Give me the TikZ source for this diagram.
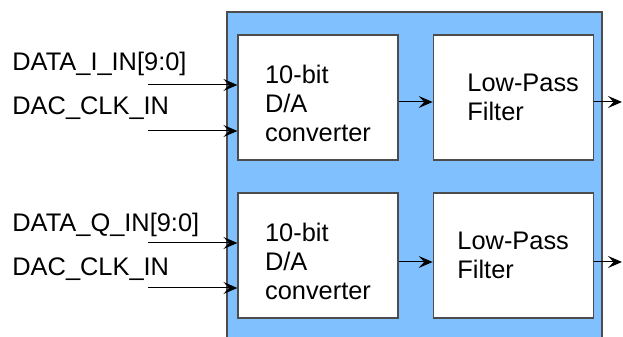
\documentclass[tikz,border=0pt]{standalone}
\usepackage{fontspec}
\setmainfont{Liberation Sans}
\usepackage{tikz}
\usetikzlibrary{arrows.meta,positioning}
\definecolor{chipblue}{RGB}{128,192,255}
\tikzset{
  block/.style={draw=black!70, fill=white, line width=0.6pt, minimum width=80pt, minimum height=62.5pt},
  blocktext/.style={font=\fontsize{12.7}{14.5}\selectfont, align=left},
  sig/.style={font=\fontsize{12.7}{14.5}\selectfont, anchor=base west, inner sep=0pt},
  wire/.style={-{Stealth[length=7pt,width=6pt,inset=2.8pt]}, line width=0.5pt}
}

\begin{document}
\begin{tikzpicture}[x=0.5pt,y=0.5pt]
	\clip (0,0) rectangle (623,337);
	\filldraw[fill=chipblue, draw=black!70, line width=0.6pt] (227,-10) rectangle (602,325);

	\node[block, label={[blocktext, yshift=-3pt]center:10-bit\\D/A\\converter}] (dacI) at (318,239.5) {};
	\node[block, label={[blocktext, xshift=5pt]center:Low-Pass\\Filter}] (lpfI) [right=17pt of dacI] {};
	\node[block, label={[blocktext, yshift=-3pt]center:10-bit\\D/A\\converter}] (dacQ) at (318,81.5) {};
	\node[block, label={[blocktext]center:Low-Pass\\Filter}] (lpfQ) [right=17pt of dacQ] {};

	\node[sig] (dataI) at (12,266) {DATA\_I\_IN[9:0]};
	\node[sig] (clkI)  at (12,222) {DAC\_CLK\_IN};
	\node[sig] (dataQ) at (12,105) {DATA\_Q\_IN[9:0]};
	\node[sig] (clkQ)  at (12,61)  {DAC\_CLK\_IN};

	\coordinate (inDI) at (148,252);
	\coordinate (inCI) at (148,206);
	\coordinate (inDQ) at (148,94);
	\coordinate (inCQ) at (148,49);
	\coordinate (outI) at (622,235);
	\coordinate (outQ) at (622,75);

	\draw[wire] (inDI) -- (inDI -| dacI.west);
	\draw[wire] (inCI) -- (inCI -| dacI.west);
	\draw[wire] (inDQ) -- (inDQ -| dacQ.west);
	\draw[wire] (inCQ) -- (inCQ -| dacQ.west);

	\draw[wire] (dacI.east |- outI) -- (lpfI.west |- outI);
	\draw[wire] (lpfI.east |- outI) -- (outI);
	\draw[wire] (dacQ.east |- outQ) -- (lpfQ.west |- outQ);
	\draw[wire] (lpfQ.east |- outQ) -- (outQ);
\end{tikzpicture}
\end{document}
